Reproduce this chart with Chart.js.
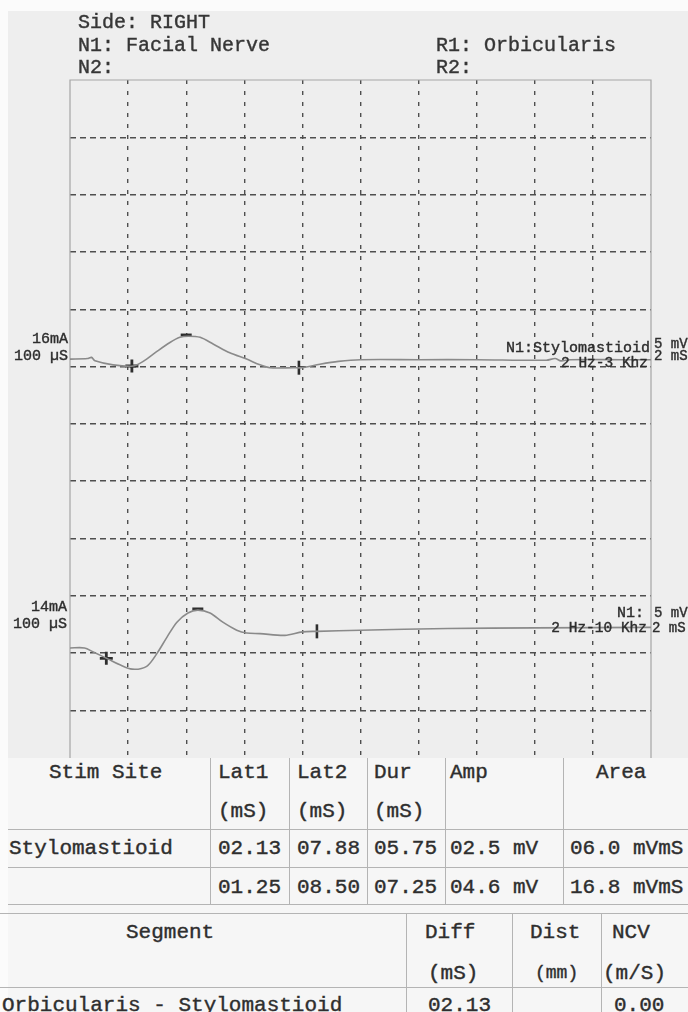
<!DOCTYPE html>
<html>
<head>
<meta charset="utf-8">
<script src="https://cdn.jsdelivr.net/npm/chart.js@4/dist/chart.umd.min.js"></script>
<style>
  html, body { margin:0; padding:0; }
  body { width:688px; height:1012px; position:relative; overflow:hidden; background:#fbfbfb;
         font-family:"Liberation Mono","DejaVu Sans Mono",monospace; color:#2e2e2e; }
  #paper { position:absolute; left:8px; top:11px; width:680px; height:747px; background:#eeeeee; }
  #tablebg { position:absolute; left:8px; top:758px; width:680px; height:254px; background:#f6f6f6; }
  #chart { position:absolute; left:0; top:0; }
  .t { position:absolute; white-space:pre; line-height:1; -webkit-text-stroke:0.4px currentColor; }
  .hline { position:absolute; height:0; border-top:1px solid #b4b4b4; }
  .vline { position:absolute; width:0; border-left:1px solid #b4b4b4; }
</style>
</head>
<body>
<div id="paper"></div>
<div id="tablebg"></div>
<canvas id="chart" width="688" height="758"></canvas>
<div id="texts"></div>
<script>
// ---- trace data (time in ms, amplitude in mV on a 5 mV/div screen) ----
const trace1Ms = [0, 0.6, 0.74, 0.86, 1.48, 2.18, 2.52, 2.98, 3.44, 3.78, 4.08, 4.48, 4.94, 5.5, 6.08, 6.54, 6.88, 7.68, 7.98, 8.6, 9.24, 10, 12, 14, 16.4, 16.7, 16.9, 17.2, 19, 20];
const trace1MV = [35.65, 35.7, 35.8, 35.5, 35.15, 35.05, 35.45, 36.3, 37.1, 37.55, 37.65, 37.55, 36.95, 36.2, 35.65, 35.15, 34.9, 34.9, 34.9, 35.2, 35.45, 35.6, 35.6, 35.6, 35.55, 35.7, 35.5, 35.6, 35.6, 35.6];
const trace2Ms = [0, 0.5, 0.8, 1.3, 1.7, 2.14, 2.64, 3.0, 3.34, 3.68, 4.06, 4.4, 4.82, 5.26, 5.74, 6.08, 6.54, 7.4, 8.0, 8.5, 10, 13, 16, 20];
const trace2MV = [10.45, 10.45, 10.1, 9.5, 9.0, 8.6, 8.85, 10.0, 11.4, 12.7, 13.5, 13.75, 13.5, 12.7, 12.0, 11.75, 11.7, 11.55, 11.85, 11.9, 12.0, 12.15, 12.2, 12.25];

// ---- cursor markers ----
const lat1Ms = [2.13, 1.25];
const lat1MV = [35.05, 9.55];
const peakMs = [4.0, 4.4];
const peakMV = [37.75, 13.85];
const lat2Ms = [7.88, 8.50];
const lat2MV = [34.9, 11.9];

// ---- screen grid ----
const xGridMs = [2, 4, 6, 8, 10, 12, 14, 16, 18];
const yGridMV = [5, 10, 15, 20, 25, 30, 35, 40, 45, 50, 55];

// ---- results tables ----
const stimSites = ['Stylomastioid', ''];
const lat1Txt = ['02.13', '01.25'];
const lat2Txt = ['07.88', '08.50'];
const durTxt = ['05.75', '07.25'];
const ampTxt = ['02.5 mV', '04.6 mV'];
const areaTxt = ['06.0 mVmS', '16.8 mVmS'];
const segments = ['Orbicularis - Stylomastioid'];
const diffTxt = ['02.13'];
const ncvTxt = ['0.00'];

// ---------- text helpers ----------
const texts = document.getElementById('texts');
function txt(s, x, cy, fs, opts) {
  opts = opts || {};
  const d = document.createElement('div');
  d.className = 't';
  d.textContent = s;
  d.style.fontSize = fs + 'px';
  d.style.top = (cy - fs * 0.5) + 'px';
  if (opts.right) d.style.right = (688 - x) + 'px'; else d.style.left = x + 'px';
  if (opts.color) d.style.color = opts.color;
  texts.appendChild(d);
}
function hl(x1, x2, y) { const d = document.createElement('div'); d.className='hline'; d.style.left=x1+'px'; d.style.width=(x2-x1)+'px'; d.style.top=y+'px'; texts.appendChild(d); }
function vl(x, y1, y2) { const d = document.createElement('div'); d.className='vline'; d.style.left=x+'px'; d.style.top=y1+'px'; d.style.height=(y2-y1)+'px'; texts.appendChild(d); }

// header
txt('Side: RIGHT', 78, 23, 20, {color:'#363636'});
txt('N1: Facial Nerve', 78, 46, 20, {color:'#363636'});
txt('N2:', 78, 68, 20, {color:'#363636'});
txt('R1: Orbicularis', 436, 46, 20, {color:'#363636'});
txt('R2:', 436, 68, 20, {color:'#363636'});

// trace labels
txt('16mA', 68, 339, 15, {right:true});
txt('100 \u00b5S', 68, 356, 15, {right:true});
txt('N1:Stylomastioid', 650, 348, 15, {right:true});
txt('5 mV', 654, 344, 14);
txt('2 Hz-3 Khz', 648, 363, 14.5, {right:true});
txt('2 mS', 654, 356, 14);
txt('14mA', 67, 607, 15, {right:true});
txt('100 \u00b5S', 67, 624, 15, {right:true});
txt('N1:', 644, 613, 15, {right:true});
txt('5 mV', 654, 613, 14);
txt('2 Hz-10 Khz', 647, 628, 14.5, {right:true});
txt('2 mS', 652, 628, 14);

// table 1
const cols1 = [218, 297, 374, 450, 570];
txt('Stim Site', 49, 772, 21);
txt('Lat1', 218, 772, 21); txt('Lat2', 297, 772, 21); txt('Dur', 374, 772, 21);
txt('Amp', 450, 772, 21); txt('Area', 596, 772, 21);
txt('(mS)', 218, 811, 21); txt('(mS)', 297, 811, 21); txt('(mS)', 374, 811, 21);
const rowY = [848, 887];
for (let i = 0; i < 2; i++) {
  if (stimSites[i]) txt(stimSites[i], 9, rowY[i], 21);
  txt(lat1Txt[i], cols1[0], rowY[i], 21);
  txt(lat2Txt[i], cols1[1], rowY[i], 21);
  txt(durTxt[i], cols1[2], rowY[i], 21);
  txt(ampTxt[i], cols1[3], rowY[i], 21);
  txt(areaTxt[i], cols1[4], rowY[i], 21);
}
hl(8, 688, 829); hl(8, 688, 867); hl(8, 688, 904);
[210, 289, 367, 445, 563].forEach(x => vl(x, 758, 904));

// table 2
hl(0, 688, 913); hl(0, 688, 987);
[406, 512, 601].forEach(x => vl(x, 913, 1012));
txt('Segment', 126, 932, 21);
txt('Diff', 425, 932, 21); txt('Dist', 530, 932, 21); txt('NCV', 612, 932, 21);
txt('(mS)', 428, 973, 21); txt('(mm)', 535, 973, 18); txt('(m/S)', 603, 973, 21);
txt(segments[0], 2, 1005, 21);
txt(diffTxt[0], 428, 1005, 21);
txt(ncvTxt[0], 614, 1005, 21);

// ---------- chart ----------
const pts = (xs, ys) => xs.map((x, i) => ({x: x, y: ys[i]}));
const markerColor = '#2e2e2e';
const framePlugin = {
  id: 'frame',
  beforeDatasetsDraw(chart) {
    const {ctx, chartArea: a} = chart;
    ctx.save();
    ctx.strokeStyle = '#a6a6a6';
    ctx.lineWidth = 1.2;
    ctx.beginPath();
    ctx.moveTo(a.left, a.bottom); ctx.lineTo(a.left, a.top); ctx.lineTo(a.right, a.top); ctx.lineTo(a.right, a.bottom);
    ctx.stroke();
    ctx.restore();
  }
};

new Chart(document.getElementById('chart'), {
  type: 'scatter',
  data: {
    datasets: [
      { data: pts(trace1Ms, trace1MV), showLine: true, borderColor: '#8a8a8a', borderWidth: 1.6, pointRadius: 0, tension: 0.3 },
      { data: pts(trace2Ms, trace2MV), showLine: true, borderColor: '#8a8a8a', borderWidth: 1.6, pointRadius: 0, tension: 0.3 },
      { data: pts(lat1Ms, lat1MV), pointStyle: 'cross', pointRadius: 6.5, borderWidth: 2.8, borderColor: markerColor, backgroundColor: markerColor },
      { data: pts(peakMs, peakMV), pointStyle: 'line', pointRadius: 5.5, borderWidth: 3, borderColor: markerColor, backgroundColor: markerColor },
      { data: pts(lat2Ms, lat2MV), pointStyle: 'line', rotation: 90, pointRadius: 7, borderWidth: 2.6, borderColor: markerColor, backgroundColor: markerColor }
    ]
  },
  options: {
    responsive: false,
    animation: false,
    events: [],
    layout: { autoPadding: false, padding: { left: 70, right: 37, top: 80, bottom: 0 } },
    plugins: { legend: { display: false }, tooltip: { enabled: false } },
    scales: {
      x: {
        type: 'linear', min: 0, max: 20,
        afterBuildTicks: (s) => { s.ticks = xGridMs.map(v => ({value: v})); },
        afterFit: (s) => { s.height = 0; },
        ticks: { display: false },
        grid: { color: '#4e4e4e', lineWidth: 1.4, drawTicks: false },
        border: { display: false, dash: [4, 7] }
      },
      y: {
        type: 'linear', min: 0.85, max: 60,
        afterBuildTicks: (s) => { s.ticks = yGridMV.map(v => ({value: v})); },
        afterFit: (s) => { s.width = 0; },
        ticks: { display: false },
        grid: { color: '#4e4e4e', lineWidth: 1.4, drawTicks: false },
        border: { display: false, dash: [6, 4] }
      }
    }
  },
  plugins: [framePlugin]
});
</script>
</body>
</html>
